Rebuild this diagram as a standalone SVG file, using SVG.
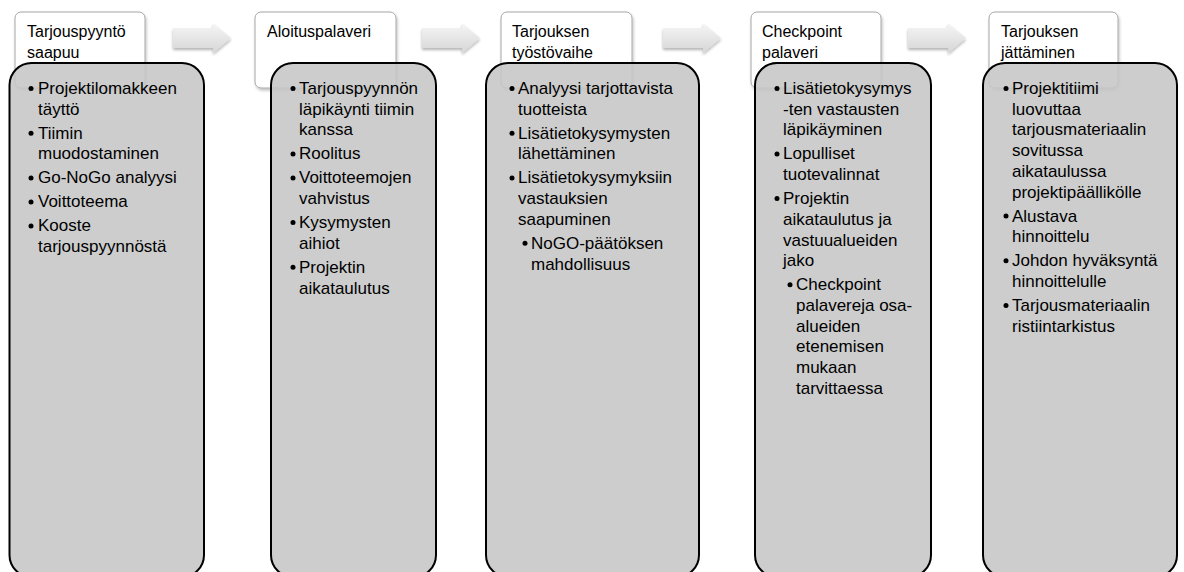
<svg xmlns="http://www.w3.org/2000/svg" width="1184" height="572" viewBox="0 0 1184 572">
<defs>
<style>
.hdr{fill:#ffffff;stroke:#a6a6a6;stroke-width:1}
.box{fill:#c6c6c6;fill-opacity:0.88;stroke:#000;stroke-width:2}
.ht{font-family:"Liberation Sans",Arial,sans-serif;font-size:16px;fill:#000}
.bt{font-family:"Liberation Sans",Arial,sans-serif;font-size:17px;fill:#000}
.dot{fill:#000}
.arr{fill:url(#ag);filter:url(#as)}
</style>
<linearGradient id="ag" x1="0" y1="0" x2="0" y2="1">
<stop offset="0" stop-color="#f6f6f6"/>
<stop offset="1" stop-color="#d6d6d6"/>
</linearGradient>
<filter id="hs" x="-10%" y="-10%" width="125%" height="130%">
<feGaussianBlur in="SourceAlpha" stdDeviation="1.5"/>
<feOffset dx="1" dy="2" result="b"/>
<feComponentTransfer><feFuncA type="linear" slope="0.25"/></feComponentTransfer>
<feMerge><feMergeNode/><feMergeNode in="SourceGraphic"/></feMerge>
</filter>
<filter id="as" x="-20%" y="-30%" width="140%" height="170%">
<feGaussianBlur in="SourceAlpha" stdDeviation="1.5"/>
<feOffset dx="0" dy="2" result="b"/>
<feComponentTransfer><feFuncA type="linear" slope="0.3"/></feComponentTransfer>
<feMerge><feMergeNode/><feMergeNode in="SourceGraphic"/></feMerge>
</filter>
</defs>
<rect width="1184" height="572" fill="#fff"/>

<g id="connectors">
<path class="arr" d="M173,28 H213 V23 L231,38 L213,53 V48 H173 Z"/>
<path class="arr" d="M422,28 H462 V23 L480,38 L462,53 V48 H422 Z"/>
<path class="arr" d="M663,28 H703 V23 L721,38 L703,53 V48 H663 Z"/>
<path class="arr" d="M908,28 H948 V23 L966,38 L948,53 V48 H908 Z"/>
</g>

<g id="node1">
<rect class="hdr" filter="url(#hs)" x="15" y="12" width="130" height="76" rx="6"/>
<text class="ht" x="27" y="37">Tarjouspyyntö</text>
<text class="ht" x="27" y="58">saapuu</text>
<rect class="box" x="9.5" y="63" width="194.5" height="514" rx="22"/>
<g class="bt">
<circle class="dot" cx="31" cy="88.5" r="2.5"/><text x="38" y="94">Projektilomakkeen</text>
<text x="38" y="114.7">täyttö</text>
<circle class="dot" cx="31" cy="133.2" r="2.5"/><text x="38" y="138.7">Tiimin</text>
<text x="38" y="159.4">muodostaminen</text>
<circle class="dot" cx="31" cy="177.9" r="2.5"/><text x="38" y="183.4">Go-NoGo analyysi</text>
<circle class="dot" cx="31" cy="201.9" r="2.5"/><text x="38" y="207.4">Voittoteema</text>
<circle class="dot" cx="31" cy="225.9" r="2.5"/><text x="38" y="231.4">Kooste</text>
<text x="38" y="252.1">tarjouspyynnöstä</text>
</g>
</g>

<g id="node2">
<rect class="hdr" filter="url(#hs)" x="255" y="12" width="141" height="76" rx="6"/>
<text class="ht" x="267" y="37">Aloituspalaveri</text>
<rect class="box" x="271" y="63" width="165" height="514" rx="22"/>
<g class="bt">
<circle class="dot" cx="293" cy="88.5" r="2.5"/><text x="299" y="94">Tarjouspyynnön</text>
<text x="299" y="114.7">läpikäynti tiimin</text>
<text x="299" y="135.4">kanssa</text>
<circle class="dot" cx="293" cy="153.9" r="2.5"/><text x="299" y="159.4">Roolitus</text>
<circle class="dot" cx="293" cy="177.9" r="2.5"/><text x="299" y="183.4">Voittoteemojen</text>
<text x="299" y="204.1">vahvistus</text>
<circle class="dot" cx="293" cy="222.6" r="2.5"/><text x="299" y="228.1">Kysymysten</text>
<text x="299" y="248.8">aihiot</text>
<circle class="dot" cx="293" cy="267.3" r="2.5"/><text x="299" y="272.8">Projektin</text>
<text x="299" y="293.5">aikataulutus</text>
</g>
</g>

<g id="node3">
<rect class="hdr" filter="url(#hs)" x="501" y="12" width="131" height="76" rx="6"/>
<text class="ht" x="512" y="37">Tarjouksen</text>
<text class="ht" x="512" y="58">työstövaihe</text>
<rect class="box" x="486" y="63" width="213" height="514" rx="22"/>
<g class="bt">
<circle class="dot" cx="512" cy="88.5" r="2.5"/><text x="518" y="94">Analyysi tarjottavista</text>
<text x="518" y="114.7">tuotteista</text>
<circle class="dot" cx="512" cy="133.2" r="2.5"/><text x="518" y="138.7">Lisätietokysymysten</text>
<text x="518" y="159.4">lähettäminen</text>
<circle class="dot" cx="512" cy="177.9" r="2.5"/><text x="518" y="183.4">Lisätietokysymyksiin</text>
<text x="518" y="204.1">vastauksien</text>
<text x="518" y="224.8">saapuminen</text>
<circle class="dot" cx="525" cy="243.3" r="2.5"/><text x="531" y="248.8">NoGO-päätöksen</text>
<text x="531" y="269.5">mahdollisuus</text>
</g>
</g>

<g id="node4">
<rect class="hdr" filter="url(#hs)" x="751" y="12" width="130" height="76" rx="6"/>
<text class="ht" x="762" y="37">Checkpoint</text>
<text class="ht" x="762" y="58">palaveri</text>
<rect class="box" x="755" y="63" width="176" height="514" rx="22"/>
<g class="bt">
<circle class="dot" cx="777" cy="88.5" r="2.5"/><text x="783" y="94">Lisätietokysymys</text>
<text x="783" y="114.7">-ten vastausten</text>
<text x="783" y="135.4">läpikäyminen</text>
<circle class="dot" cx="777" cy="153.9" r="2.5"/><text x="783" y="159.4">Lopulliset</text>
<text x="783" y="180.1">tuotevalinnat</text>
<circle class="dot" cx="777" cy="198.6" r="2.5"/><text x="783" y="204.1">Projektin</text>
<text x="783" y="224.8">aikataulutus ja</text>
<text x="783" y="245.5">vastuualueiden</text>
<text x="783" y="266.2">jako</text>
<circle class="dot" cx="790" cy="284.7" r="2.5"/><text x="796" y="290.2">Checkpoint</text>
<text x="796" y="310.9">palavereja osa-</text>
<text x="796" y="331.6">alueiden</text>
<text x="796" y="352.3">etenemisen</text>
<text x="796" y="373">mukaan</text>
<text x="796" y="393.7">tarvittaessa</text>
</g>
</g>

<g id="node5">
<rect class="hdr" filter="url(#hs)" x="989" y="12" width="129" height="76" rx="6"/>
<text class="ht" x="1001" y="37">Tarjouksen</text>
<text class="ht" x="1001" y="58">jättäminen</text>
<rect class="box" x="983" y="63" width="194" height="514" rx="22"/>
<g class="bt">
<circle class="dot" cx="1006" cy="88.5" r="2.5"/><text x="1012" y="94">Projektitiimi</text>
<text x="1012" y="114.7">luovuttaa</text>
<text x="1012" y="135.4">tarjousmateriaalin</text>
<text x="1012" y="156.1">sovitussa</text>
<text x="1012" y="176.8">aikataulussa</text>
<text x="1012" y="197.5">projektipäällikölle</text>
<circle class="dot" cx="1006" cy="216" r="2.5"/><text x="1012" y="221.5">Alustava</text>
<text x="1012" y="242.2">hinnoittelu</text>
<circle class="dot" cx="1006" cy="260.7" r="2.5"/><text x="1012" y="266.2">Johdon hyväksyntä</text>
<text x="1012" y="286.9">hinnoittelulle</text>
<circle class="dot" cx="1006" cy="305.4" r="2.5"/><text x="1012" y="310.9">Tarjousmateriaalin</text>
<text x="1012" y="331.6">ristiintarkistus</text>
</g>
</g>
</svg>
